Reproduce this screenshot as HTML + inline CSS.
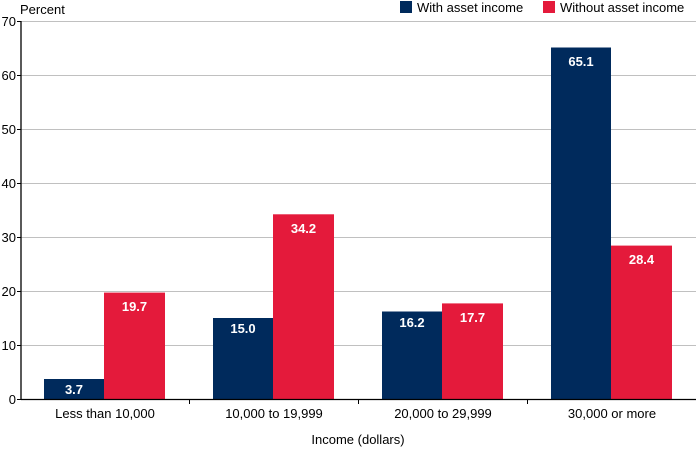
<!DOCTYPE html>
<html><head><meta charset="utf-8"><style>body{margin:0;background:#fff}svg{display:block;font-family:"Liberation Sans",Arial,sans-serif}</style></head>
<body>
<svg width="696" height="450" viewBox="0 0 696 450">
<g stroke="#c0c0c0" stroke-width="1">
<line x1="21" x2="696" y1="21.5" y2="21.5"/><line x1="21" x2="696" y1="75.5" y2="75.5"/><line x1="21" x2="696" y1="129.5" y2="129.5"/><line x1="21" x2="696" y1="183.5" y2="183.5"/><line x1="21" x2="696" y1="237.5" y2="237.5"/><line x1="21" x2="696" y1="291.5" y2="291.5"/><line x1="21" x2="696" y1="345.5" y2="345.5"/>
</g>
<g font-size="13" fill="#000" text-anchor="end">
<text x="16" y="26">70</text><text x="16" y="80">60</text><text x="16" y="134">50</text><text x="16" y="188">40</text><text x="16" y="242">30</text><text x="16" y="296">20</text><text x="16" y="350">10</text><text x="16" y="404">0</text>
</g>
<text x="20" y="14" font-size="13">Percent</text>
<g fill="#002a5c">
<rect x="44" y="379" width="60" height="20"/><rect x="213" y="318" width="60" height="81"/><rect x="382" y="311.5" width="60" height="87.5"/><rect x="551" y="47.5" width="60" height="351.5"/>
</g>
<g fill="#e41a3b">
<rect x="104" y="292.6" width="61" height="106.4"/><rect x="273" y="214.3" width="61" height="184.7"/><rect x="442" y="303.4" width="61" height="95.6"/><rect x="611" y="245.6" width="61" height="153.4"/>
</g>
<g stroke="#000" stroke-width="1.3">
<line x1="21" x2="21" y1="21" y2="400"/><line x1="21" x2="696" y1="399.5" y2="399.5"/>
</g>
<g stroke="#000"><line x1="17" x2="21" y1="21.5" y2="21.5"/><line x1="17" x2="21" y1="75.5" y2="75.5"/><line x1="17" x2="21" y1="129.5" y2="129.5"/><line x1="17" x2="21" y1="183.5" y2="183.5"/><line x1="17" x2="21" y1="237.5" y2="237.5"/><line x1="17" x2="21" y1="291.5" y2="291.5"/><line x1="17" x2="21" y1="345.5" y2="345.5"/><line x1="17" x2="21" y1="399.5" y2="399.5"/>
<line x1="189.5" x2="189.5" y1="399" y2="404"/><line x1="358.5" x2="358.5" y1="399" y2="404"/><line x1="527.5" x2="527.5" y1="399" y2="404"/></g>
<g font-size="13" font-weight="bold" fill="#fff" text-anchor="middle">
<text x="74" y="394">3.7</text><text x="134.5" y="311">19.7</text>
<text x="243" y="333">15.0</text><text x="303.5" y="233">34.2</text>
<text x="412" y="327">16.2</text><text x="472.5" y="322">17.7</text>
<text x="581" y="66">65.1</text><text x="641.5" y="264">28.4</text>
</g>
<g font-size="13" text-anchor="middle">
<text x="105" y="418">Less than 10,000</text><text x="274" y="418">10,000 to 19,999</text><text x="443" y="418">20,000 to 29,999</text><text x="612" y="418">30,000 or more</text>
<text x="358" y="444">Income (dollars)</text>
</g>
<rect x="400" y="1" width="12" height="12" fill="#002a5c"/>
<text x="417" y="12" font-size="13">With asset income</text>
<rect x="543" y="1" width="12" height="12" fill="#e41a3b"/>
<text x="560" y="12" font-size="13">Without asset income</text>
</svg>
</body></html>
